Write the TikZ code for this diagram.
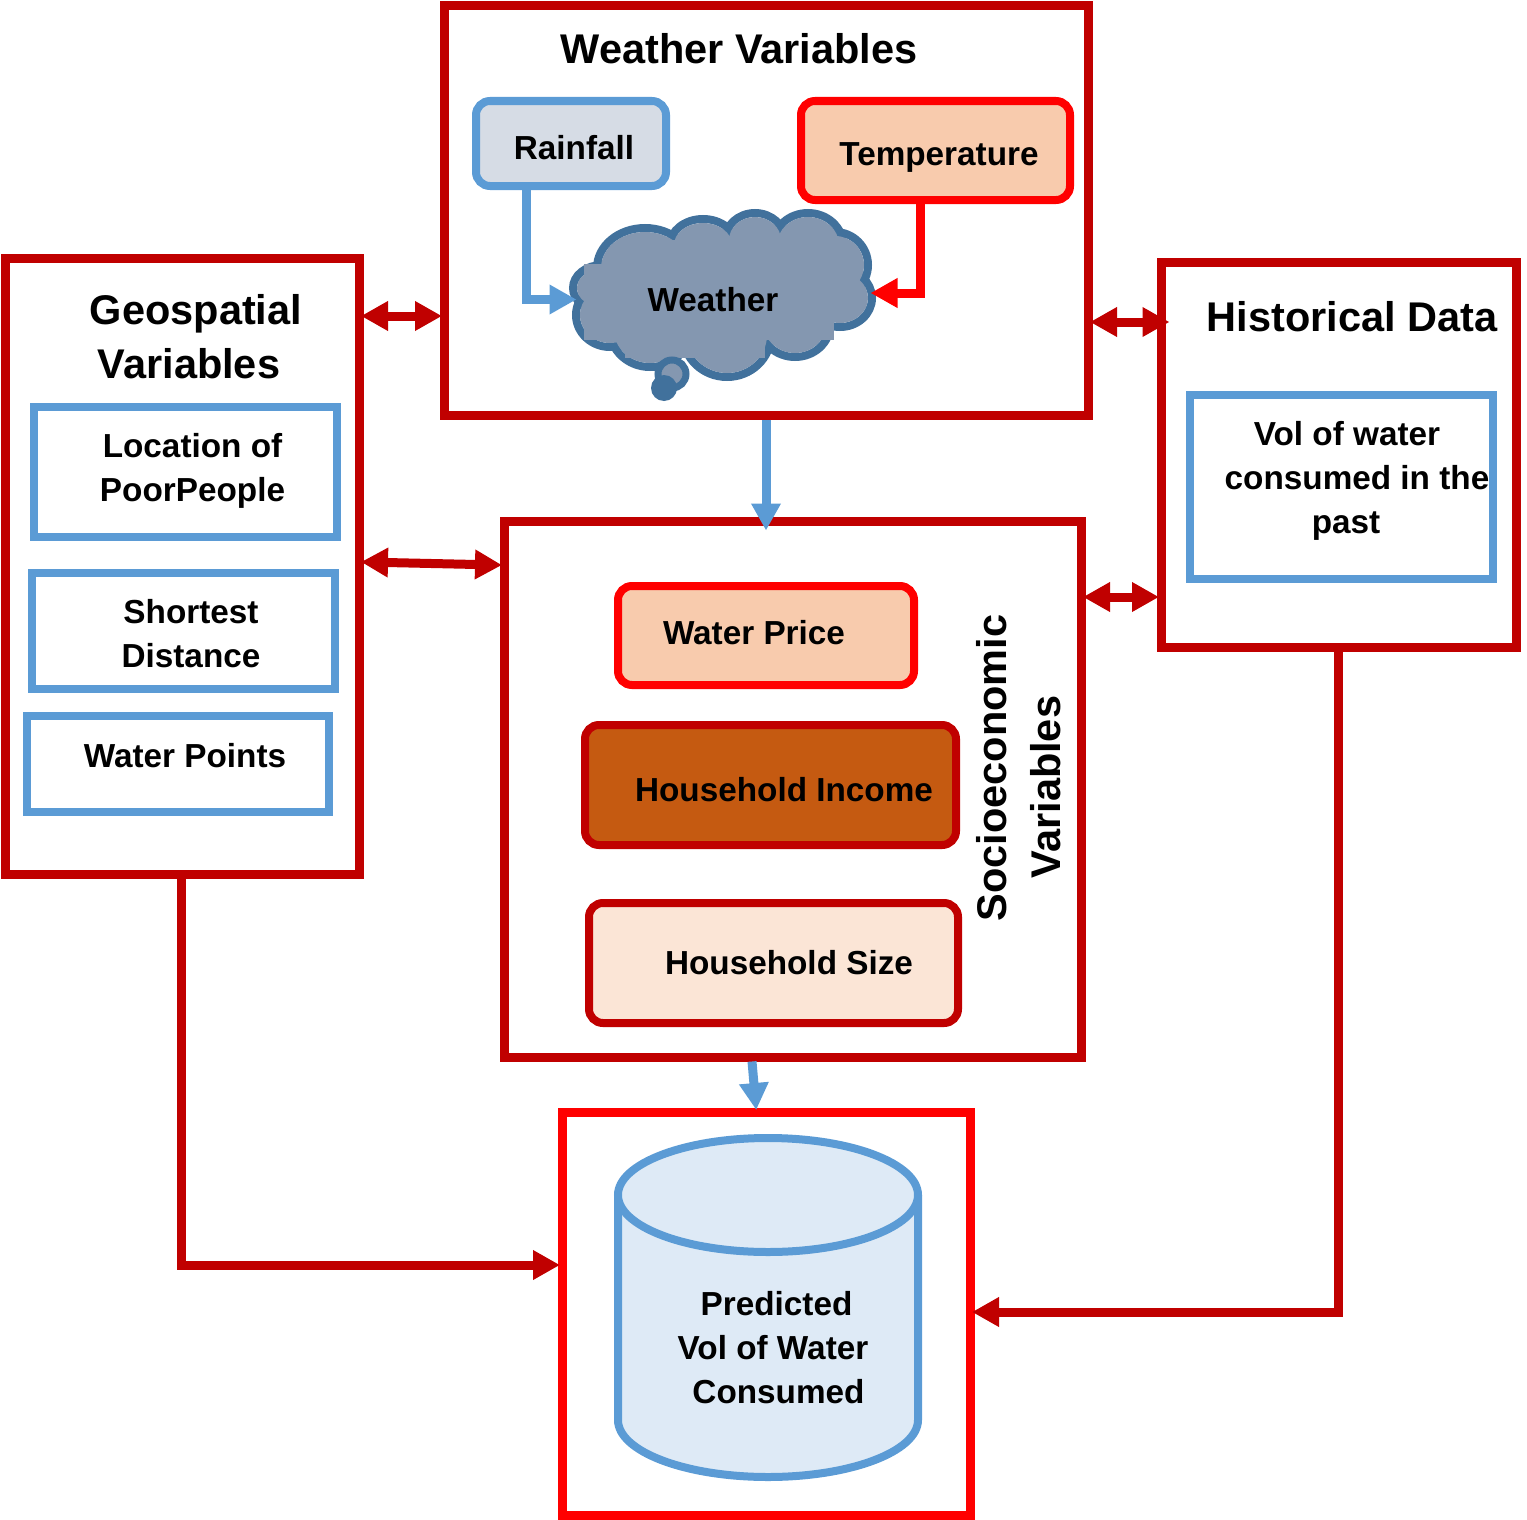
\documentclass[tikz,border=0pt]{standalone}
\usepackage{fontspec}
\setmainfont{Liberation Sans}
\usetikzlibrary{arrows.meta,shapes.geometric}
\definecolor{darkred}{HTML}{C00000}
\definecolor{skyblue}{HTML}{5B9BD5}
\definecolor{cloudline}{HTML}{41719C}
\definecolor{cloudfill}{HTML}{8497B0}
\definecolor{rainfill}{HTML}{D6DCE5}
\definecolor{peach}{HTML}{F8CBAD}
\definecolor{incomefill}{HTML}{C55A11}
\definecolor{sizefill}{HTML}{FBE5D6}
\definecolor{cylfill}{HTML}{DEEAF6}
\tikzset{
    outerbox/.style={draw=darkred,line width=9pt,inner sep=0pt},
    bluebox/.style={draw=skyblue,line width=8pt,inner sep=0pt},
    softbox/.style={line width=8pt,rounded corners=14pt,inner sep=0pt},
    heading/.style={font=\fontsize{41.5}{54}\selectfont\bfseries,align=center,inner sep=0pt},
    label/.style={font=\fontsize{33.3}{44}\selectfont\bfseries,align=center,inner sep=0pt},
    twoway/.style={draw=darkred,line width=9pt,shorten <=-2.5pt,shorten >=-2.5pt,{Triangle[length=27pt,width=28pt]}-{Triangle[length=27pt,width=28pt]}},
    oneway/.style={line width=9pt,shorten >=-2.5pt,-{Triangle[length=27pt,width=28pt]}},
}
\begin{document}
\begin{tikzpicture}[x=1pt,y=-1pt]
    \useasboundingbox (0,0) rectangle (1527,1520);
    % outer boxes
    \node(weathervars)[outerbox,minimum width=644pt,minimum height=409pt] at (766,210.5) {};
    \node(geo)[outerbox,minimum width=354pt,minimum height=616pt] at (182,566) {};
    \node(history)[outerbox,minimum width=355pt,minimum height=385pt] at (1338.5,454.5) {};
    \node(socio)[outerbox,minimum width=577pt,minimum height=536pt] at (792.5,789) {};
    \node(predicted)[draw=red,line width=9pt,inner sep=0pt,minimum width=408pt,minimum height=403pt] at (766,1313.5) {};
    % weather
    \node(rain)[softbox,draw=skyblue,fill=rainfill,minimum width=190pt,minimum height=85pt] at (571,143.5) {};
    \node(temp)[softbox,draw=red,fill=peach,minimum width=269pt,minimum height=99pt] at (935.5,150.5) {};
    % cloud lobes: outline first, then the inside
    \foreach \cx/\cy/\rx/\ry in {645/268/48/40,703/245/33/26,755/240/30/27,808/245/35/32,835/265/33/33,840/298/32/29,795/325/35/32,727/335/44/42,650/330/40/37,610/315/34/32,602/288/29/23}
        \draw[cloudline,line width=8pt] (\cx,\cy) ellipse[x radius=\rx pt,y radius=\ry pt];
    \foreach \cx/\cy/\rx/\ry in {645/268/48/40,703/245/33/26,755/240/30/27,808/245/35/32,835/265/33/33,840/298/32/29,795/325/35/32,727/335/44/42,650/330/40/37,610/315/34/32,602/288/29/23}
        \fill[cloudfill] (\cx,\cy) ellipse[x radius=\rx pt-4pt,y radius=\ry pt-4pt];
    \fill[cloudfill] (584,264) rectangle (834,340);
    \fill[cloudfill] (640,240) rectangle (835,300);
    \fill[cloudfill] (625,330) rectangle (765,358);
    \draw[cloudline,fill=cloudfill,line width=7pt] (672,374) circle (14pt);
    \fill[cloudline] (664,388) circle (13pt);
    \coordinate(cloudwest) at (574,299.5);
    \coordinate(cloudeast) at (873,293);
    \node(weather)[label] at (713,300) {Weather};
    \node(raintext)[label] at (574,148) {Rainfall};
    \node(temptext)[label] at (939,157) {Temperature};
    \node(weathertitle)[heading] at (739,49) {Weather Variables};
    % geospatial
    \node(geotitle)[heading] at (192,337) {\hspace*{8pt}Geospatial\\Variables\hspace*{6pt}};
    \node(location)[bluebox,minimum width=303pt,minimum height=130pt] at (185.5,472) {};
    \node(locationtext)[label] at (192.5,471) {Location of\\PoorPeople};
    \node(shortest)[bluebox,minimum width=303pt,minimum height=116pt] at (183.5,631) {};
    \node(shortesttext)[label] at (191,634) {Shortest\\Distance};
    \node(points)[bluebox,minimum width=302pt,minimum height=96pt] at (178,764) {};
    \node(pointstext)[label] at (185,756) {Water Points};
    % history
    \node(historytitle)[heading] at (1352,317) {Historical Data};
    \node(volume)[bluebox,minimum width=303pt,minimum height=184pt] at (1341.5,487) {};
    \node(volumetext)[label] at (1357,481) {Vol of water\hspace*{20pt}\\consumed in the\\past\hspace*{22pt}};
    % socioeconomic
    \node(price)[softbox,draw=red,fill=peach,minimum width=296pt,minimum height=99pt] at (766,635.5) {};
    \node(income)[softbox,draw=darkred,fill=incomefill,minimum width=371pt,minimum height=120pt] at (770.5,785) {};
    \node(size)[softbox,draw=darkred,fill=sizefill,minimum width=369pt,minimum height=120pt] at (773.5,963) {};
    \node(pricetext)[label] at (754,633) {Water Price};
    \node(incometext)[label] at (784,790) {Household Income};
    \node(sizetext)[label] at (789,963) {Household Size};
    \node(sociotitleone)[heading,rotate=90] at (992,768) {Socioeconomic};
    \node(sociotitletwo)[heading,rotate=90] at (1046,787) {Variables};
    % cylinder
    \draw[skyblue,fill=cylfill,line width=8pt] (618,1195) -- (618,1420) arc[start angle=180,end angle=360,x radius=150pt,y radius=57pt] -- (918,1195);
    \node(store)[draw=skyblue,fill=cylfill,line width=8pt,ellipse,inner sep=0pt,minimum width=300pt,minimum height=114pt] at (768,1195) {};
    \node(storetext)[label] at (773,1348) {\hspace*{7pt}Predicted\\Vol of Water\\\hspace*{11pt}Consumed};
    % connectors
    \draw[twoway] (geo.east |- 0,316) -- (weathervars.west |- 0,316);
    \draw[twoway] (geo.east |- 0,562) -- (socio.west |- 0,565);
    \draw[twoway,shorten >=-13pt] (weathervars.east |- 0,322) -- (history.west |- 0,322);
    \draw[twoway] (socio.east |- 0,597) -- (history.west |- 0,597);
    \draw[oneway,skyblue,shorten >=-14pt] (weathervars.south -| 766,0) -- (socio.north -| 766,0);
    \draw[oneway,skyblue] (socio.south -| 752,0) -- (predicted.north -| 756,0);
    \draw[oneway,darkred] (geo.south -| 181,0) |- (predicted.west |- 0,1265);
    \draw[oneway,darkred] (history.south -| 1338,0) |- (predicted.east |- 0,1312);
    \draw[oneway,skyblue] (rain.south -| 526,0) |- (cloudwest);
    \draw[oneway,red] (temp.south -| 920.5,0) |- (cloudeast);
\end{tikzpicture}
\end{document}
